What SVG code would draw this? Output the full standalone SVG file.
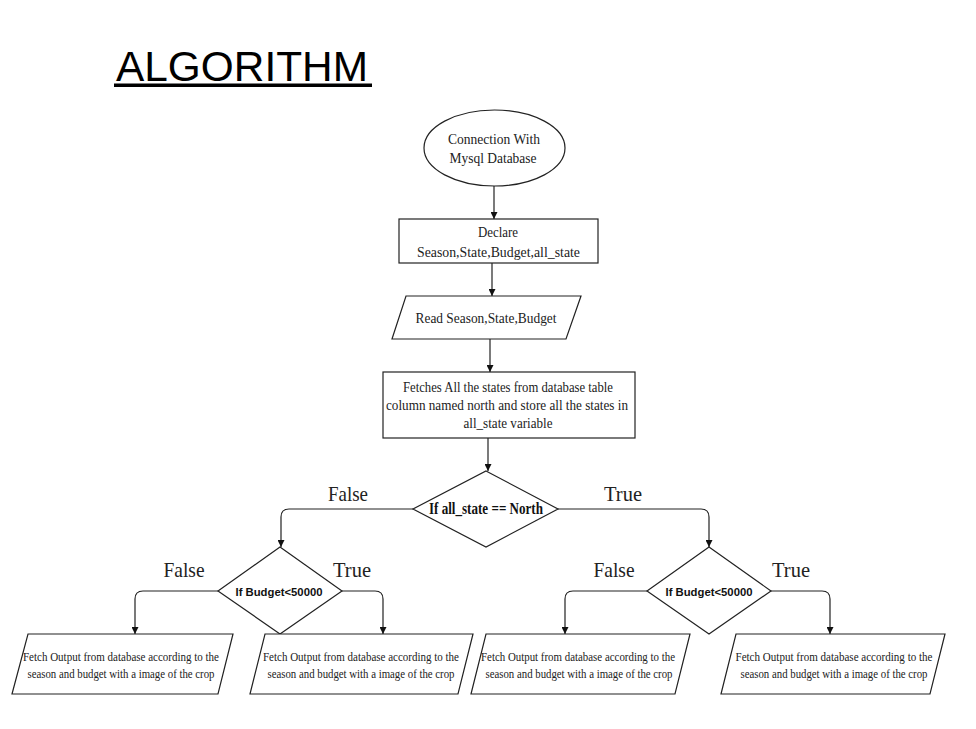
<svg xmlns="http://www.w3.org/2000/svg" width="976" height="729" viewBox="0 0 976 729">
<defs>
<marker id="arr" viewBox="0 0 10 10" refX="10" refY="5" markerWidth="7" markerHeight="7" markerUnits="userSpaceOnUse" orient="auto">
<path d="M0,0 L10,5 L0,10 z" fill="#111"/>
</marker>
<style>
.shape{fill:#fff;stroke:#222;stroke-width:1.2}
.conn{fill:none;stroke:#222;stroke-width:1.2;marker-end:url(#arr)}
.t{font-family:"Liberation Serif","Times New Roman",serif;font-size:15px;fill:#222;text-anchor:middle}
.tb{font-family:"Liberation Serif","Times New Roman",serif;font-size:17px;font-weight:bold;fill:#111;text-anchor:middle}
.ts{font-family:"Liberation Sans",Arial,sans-serif;font-size:11.5px;font-weight:bold;fill:#111;text-anchor:middle}
.lbl{font-family:"Liberation Serif","Times New Roman",serif;font-size:21px;fill:#222;text-anchor:middle}
.bt{font-family:"Liberation Serif","Times New Roman",serif;font-size:13.5px;fill:#222;text-anchor:middle}
</style>
</defs>
<rect width="976" height="729" fill="#fff"/>
<text x="116" y="81" font-family="Liberation Sans, Arial, sans-serif" font-size="42" fill="#000" textLength="252" lengthAdjust="spacingAndGlyphs">ALGORITHM</text>
<rect x="114" y="83.5" width="258" height="3.5" fill="#000"/>

<g id="connectors">
<path class="conn" d="M494,186 L494,219"/>
<path class="conn" d="M492,263 L492,296"/>
<path class="conn" d="M490,339 L490,372"/>
<path class="conn" d="M488,438 L488,471"/>
<path class="conn" d="M413,509 L289,509 Q281,509 281,517 L281,547"/>
<path class="conn" d="M558,509 L701,509 Q709,509 709,517 L709,547"/>
<path class="conn" d="M218,591 L143,591 Q135,591 135,599 L135,634"/>
<path class="conn" d="M342,591 L375,591 Q383,591 383,599 L383,634"/>
<path class="conn" d="M647,591 L573,591 Q565,591 565,599 L565,634"/>
<path class="conn" d="M771,591 L822,591 Q830,591 830,599 L830,634"/>
</g>
<g id="edge-labels">
<text class="lbl" x="348" y="501" textLength="40" lengthAdjust="spacingAndGlyphs">False</text>
<text class="lbl" x="623" y="501" textLength="38" lengthAdjust="spacingAndGlyphs">True</text>
<text class="lbl" x="184" y="577" textLength="41" lengthAdjust="spacingAndGlyphs">False</text>
<text class="lbl" x="352" y="577" textLength="38" lengthAdjust="spacingAndGlyphs">True</text>
<text class="lbl" x="614" y="577" textLength="41" lengthAdjust="spacingAndGlyphs">False</text>
<text class="lbl" x="791" y="577" textLength="38" lengthAdjust="spacingAndGlyphs">True</text>
</g>

<g id="start">
<ellipse class="shape" cx="494.5" cy="148" rx="70.5" ry="38"/>
<text class="t" x="494" y="144" textLength="92" lengthAdjust="spacingAndGlyphs">Connection With</text>
<text class="t" x="493" y="163" textLength="87" lengthAdjust="spacingAndGlyphs">Mysql Database</text>
</g>
<g id="declare">
<rect class="shape" x="399" y="219" width="199" height="44"/>
<text class="t" x="498" y="237" textLength="40" lengthAdjust="spacingAndGlyphs">Declare</text>
<text class="t" x="498.5" y="257" textLength="163" lengthAdjust="spacingAndGlyphs">Season,State,Budget,all_state</text>
</g>
<g id="read">
<polygon class="shape" points="406,296 581,296 566,339 392,339"/>
<text class="t" x="486" y="323" textLength="141" lengthAdjust="spacingAndGlyphs">Read Season,State,Budget</text>
</g>
<g id="fetch-states">
<rect class="shape" x="383" y="372" width="252" height="66"/>
<text class="t" x="508" y="392" textLength="210" lengthAdjust="spacingAndGlyphs">Fetches All the states from database table</text>
<text class="t" x="507" y="410" textLength="242" lengthAdjust="spacingAndGlyphs">column named north and store all the states in</text>
<text class="t" x="508" y="428" textLength="89" lengthAdjust="spacingAndGlyphs">all_state variable</text>
</g>
<g id="decision-north">
<polygon class="shape" points="486,471 558,509 486,547 413,509"/>
<text class="tb" x="486" y="514" textLength="114" lengthAdjust="spacingAndGlyphs">If all_state == North</text>
</g>
<g id="decision-budget-left">
<polygon class="shape" points="280,547 342,591 280,634 218,591"/>
<text class="ts" x="279" y="596" textLength="87" lengthAdjust="spacingAndGlyphs">If Budget&lt;50000</text>
</g>
<g id="decision-budget-right">
<polygon class="shape" points="709,547 771,591 709,634 647,591"/>
<text class="ts" x="709" y="596" textLength="87" lengthAdjust="spacingAndGlyphs">If Budget&lt;50000</text>
</g>
<g id="output-1">
<polygon class="shape" points="28,634 233,634 218,694 12,694"/>
<text class="bt" x="121" y="661" textLength="196" lengthAdjust="spacingAndGlyphs">Fetch Output from database according to the</text>
<text class="bt" x="121" y="678" textLength="187" lengthAdjust="spacingAndGlyphs">season and budget  with a image of the crop</text>
</g>
<g id="output-2">
<polygon class="shape" points="265,634 473,634 458,694 250,694"/>
<text class="bt" x="361" y="661" textLength="196" lengthAdjust="spacingAndGlyphs">Fetch Output from database according to the</text>
<text class="bt" x="361" y="678" textLength="187" lengthAdjust="spacingAndGlyphs">season and budget  with a image of the crop</text>
</g>
<g id="output-3">
<polygon class="shape" points="486,634 690,634 675,694 471,694"/>
<text class="bt" x="578" y="661" textLength="194" lengthAdjust="spacingAndGlyphs">Fetch Output from database according to the</text>
<text class="bt" x="579" y="678" textLength="187" lengthAdjust="spacingAndGlyphs">season and budget  with a image of the crop</text>
</g>
<g id="output-4">
<polygon class="shape" points="736,634 945,634 930,694 721,694"/>
<text class="bt" x="834" y="661" textLength="197" lengthAdjust="spacingAndGlyphs">Fetch Output from database according to the</text>
<text class="bt" x="834" y="678" textLength="187" lengthAdjust="spacingAndGlyphs">season and budget  with a image of the crop</text>
</g>
</svg>
